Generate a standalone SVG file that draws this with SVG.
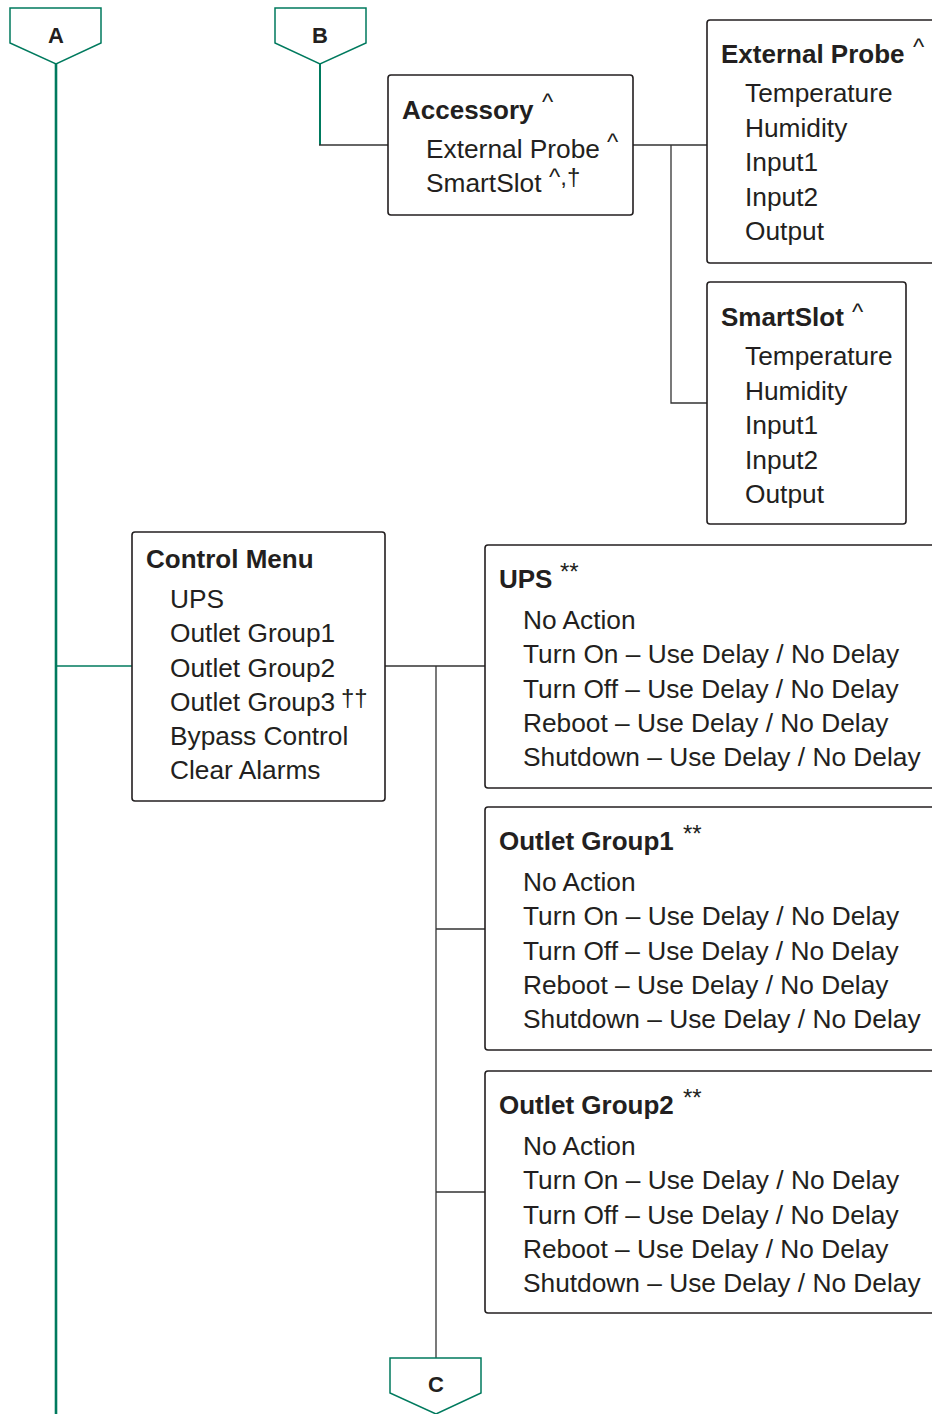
<svg xmlns="http://www.w3.org/2000/svg" width="932" height="1414" viewBox="0 0 932 1414">
<style>
.box{fill:#fff;stroke:#231f20;stroke-width:1.6}
.pent{fill:#fff;stroke:#007a5e;stroke-width:1.5}
.t{font-family:"Liberation Sans",Arial,sans-serif;font-size:26.3px;fill:#231f20}
.b{font-weight:bold;font-size:26px}
.sup{font-family:"Liberation Sans",Arial,sans-serif;font-size:24px;fill:#231f20}
.lbl{font-family:"Liberation Sans",Arial,sans-serif;font-size:22px;font-weight:bold;fill:#231f20;text-anchor:middle}
.c{fill:none;stroke:#333;stroke-width:1.3}
.g{fill:none;stroke:#007a5e}
</style>
<rect width="932" height="1414" fill="#fff"/>
<g id="connectors">
<path class="g" stroke-width="2.6" d="M56 64V1414"/>
<path class="g" stroke-width="1.3" d="M56 666H132"/>
<path class="g" stroke-width="2" d="M320 64V145"/>
<path class="c" d="M319 145H388"/>
<path class="c" d="M633 145H707M671 145V403H707"/>
<path class="c" d="M385 666H485M436 666V1358M436 929H485M436 1192H485"/>
</g>
<g id="A">
<path class="pent" d="M10 8H101V43L56 64L10 43Z"/>
<text class="lbl" x="56" y="43">A</text>
</g>
<g id="B">
<path class="pent" d="M275 8H366V43L320 64L275 43Z"/>
<text class="lbl" x="320" y="43">B</text>
</g>
<g id="C">
<path class="pent" d="M390 1358H481V1393L436 1414L390 1393Z"/>
<text class="lbl" x="436" y="1392">C</text>
</g>
<g id="accessory">
<rect class="box" x="388" y="75" width="245" height="140" rx="3"/>
<text class="t b" x="402" y="119">Accessory</text>
<text class="sup" x="542" y="110">^</text>
<text class="t" x="426" y="158">External Probe</text>
<text class="sup" x="607" y="150">^</text>
<text class="t" x="426" y="192">SmartSlot</text>
<text class="sup" x="549" y="185">^,†</text>
</g>
<g id="external-probe">
<rect class="box" x="707" y="20" width="240" height="243" rx="3"/>
<text class="t b" x="721" y="63">External Probe</text>
<text class="sup" x="913" y="55">^</text>
<text class="t" x="745" y="102">Temperature</text>
<text class="t" x="745" y="136.5">Humidity</text>
<text class="t" x="745" y="171">Input1</text>
<text class="t" x="745" y="205.5">Input2</text>
<text class="t" x="745" y="240">Output</text>
</g>
<g id="smartslot">
<rect class="box" x="707" y="282" width="199" height="242" rx="3"/>
<text class="t b" x="721" y="326">SmartSlot</text>
<text class="sup" x="852" y="320">^</text>
<text class="t" x="745" y="365">Temperature</text>
<text class="t" x="745" y="399.5">Humidity</text>
<text class="t" x="745" y="434">Input1</text>
<text class="t" x="745" y="468.5">Input2</text>
<text class="t" x="745" y="503">Output</text>
</g>
<g id="control-menu">
<rect class="box" x="132" y="532" width="253" height="269" rx="3"/>
<text class="t b" x="146" y="568">Control Menu</text>
<text class="t" x="170" y="608">UPS</text>
<text class="t" x="170" y="642">Outlet Group1</text>
<text class="t" x="170" y="676.5">Outlet Group2</text>
<text class="t" x="170" y="711">Outlet Group3</text>
<text class="sup" x="341" y="706" font-size="27">††</text>
<text class="t" x="170" y="745">Bypass Control</text>
<text class="t" x="170" y="779">Clear Alarms</text>
</g>
<g id="ups">
<rect class="box" x="485" y="545" width="460" height="243" rx="3"/>
<text class="t b" x="499" y="588">UPS</text>
<text class="sup" x="560" y="580" font-size="22">**</text>
<text class="t" x="523" y="629">No Action</text>
<text class="t" x="523" y="663">Turn On – Use Delay / No Delay</text>
<text class="t" x="523" y="697.5">Turn Off – Use Delay / No Delay</text>
<text class="t" x="523" y="732">Reboot – Use Delay / No Delay</text>
<text class="t" x="523" y="766">Shutdown – Use Delay / No Delay</text>
</g>
<g id="outlet-group1">
<rect class="box" x="485" y="807" width="460" height="243" rx="3"/>
<text class="t b" x="499" y="850">Outlet Group1</text>
<text class="sup" x="683" y="842" font-size="22">**</text>
<text class="t" x="523" y="891">No Action</text>
<text class="t" x="523" y="925">Turn On – Use Delay / No Delay</text>
<text class="t" x="523" y="959.5">Turn Off – Use Delay / No Delay</text>
<text class="t" x="523" y="994">Reboot – Use Delay / No Delay</text>
<text class="t" x="523" y="1028">Shutdown – Use Delay / No Delay</text>
</g>
<g id="outlet-group2">
<rect class="box" x="485" y="1071" width="460" height="242" rx="3"/>
<text class="t b" x="499" y="1114">Outlet Group2</text>
<text class="sup" x="683" y="1106" font-size="22">**</text>
<text class="t" x="523" y="1155">No Action</text>
<text class="t" x="523" y="1189">Turn On – Use Delay / No Delay</text>
<text class="t" x="523" y="1223.5">Turn Off – Use Delay / No Delay</text>
<text class="t" x="523" y="1258">Reboot – Use Delay / No Delay</text>
<text class="t" x="523" y="1292">Shutdown – Use Delay / No Delay</text>
</g>
</svg>
